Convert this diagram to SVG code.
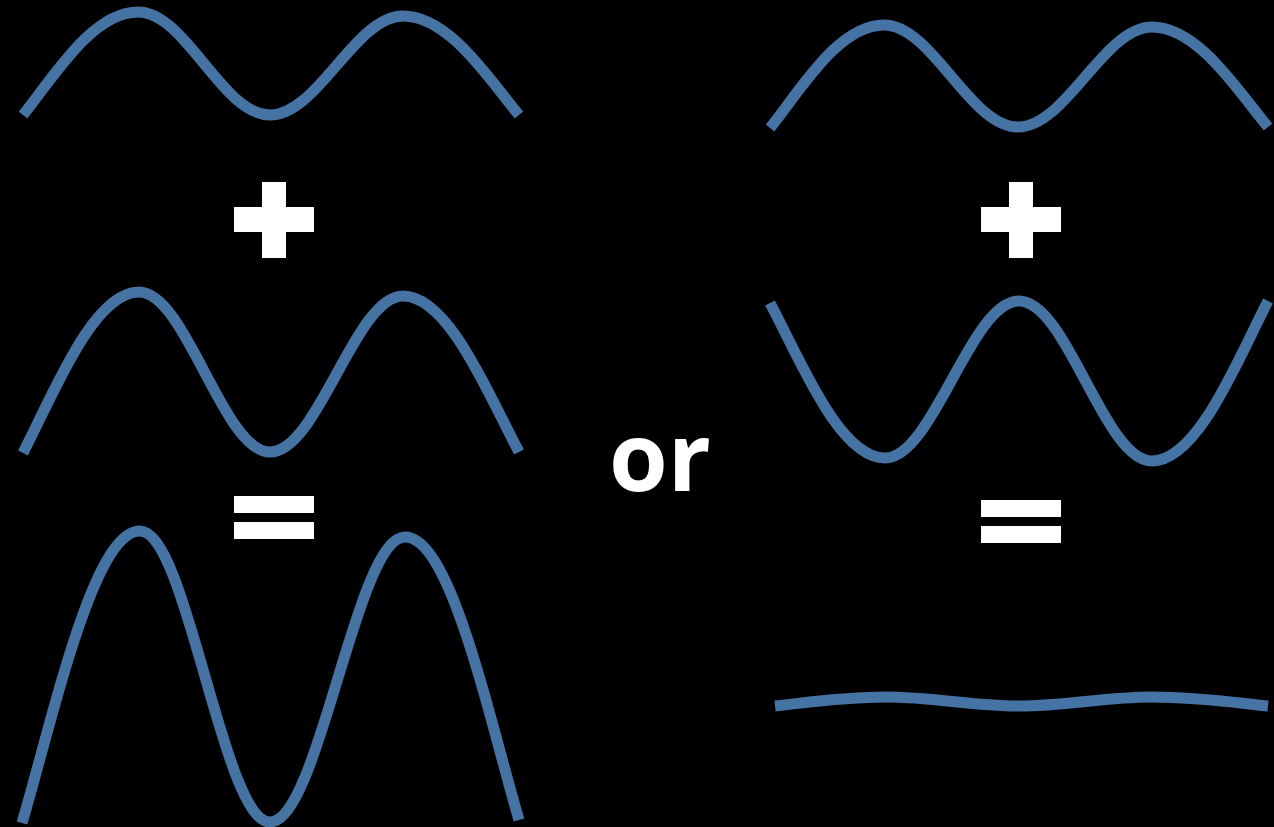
<svg xmlns="http://www.w3.org/2000/svg" width="1274" height="827" viewBox="0 0 1274 827">
<style>
.wave{fill:none;stroke:#4573a4;stroke-width:11;stroke-linecap:butt;stroke-linejoin:round}
.sym{fill:#ffffff}
.or{fill:#ffffff;font-family:"Open Sans","Liberation Sans",sans-serif;font-weight:bold;font-size:95px}
</style>
<rect x="0" y="0" width="1274" height="827" fill="#000000"/>
<g id="left-column">
<path id="wave-l1" class="wave" d="M23,115 C53,78 92,12 138,12 C186,12 222,115 270,115 C318,115 355,16 403,16 C449,16 489,79 519,115"/>
<g id="plus-left" class="sym"><rect x="262" y="182" width="24" height="76"/><rect x="234" y="207" width="80" height="25"/></g>
<path id="wave-l2" class="wave" d="M23,453 C53,395 93,292 139,292 C186,292 223,452 270,452 C318,452 355,296 403,296 C449,296 489,396 519,452"/>
<g id="equals-left" class="sym"><rect x="234" y="496" width="80" height="17"/><rect x="234" y="522" width="80" height="17"/></g>
<path id="wave-l3" class="wave" d="M22,823 C53,718 93,531 140,531 C187,531 223,822 270,822 C319,822 356,537 405,537 C451,537 489,718 519,820"/>
</g>
<g id="or-label"><text class="or" x="609" y="491">or</text></g>
<g id="right-column">
<path id="wave-r1" class="wave" d="M770,128 C800,91 838,25 884,25 C932,25 970,127 1018,127 C1066,127 1104,27 1152,27 C1198,27 1238,91 1268,127"/>
<g id="plus-right" class="sym"><rect x="1009" y="182" width="24" height="76"/><rect x="981" y="207" width="80" height="25"/></g>
<path id="wave-r2" class="wave" d="M770,303 C800,359 839,458 885,458 C933,458 971,301 1019,301 C1067,301 1104,461 1152,461 C1198,461 1238,359 1268,301"/>
<g id="equals-right" class="sym"><rect x="981" y="500" width="80" height="17"/><rect x="981" y="526" width="80" height="17"/></g>
<path id="wave-r3" class="wave" d="M775,706 C804,703 842,697 886,697 C934,697 971,706 1019,706 C1067,706 1104,697 1152,697 C1198,697 1238,703 1268,706"/>
</g>
</svg>
